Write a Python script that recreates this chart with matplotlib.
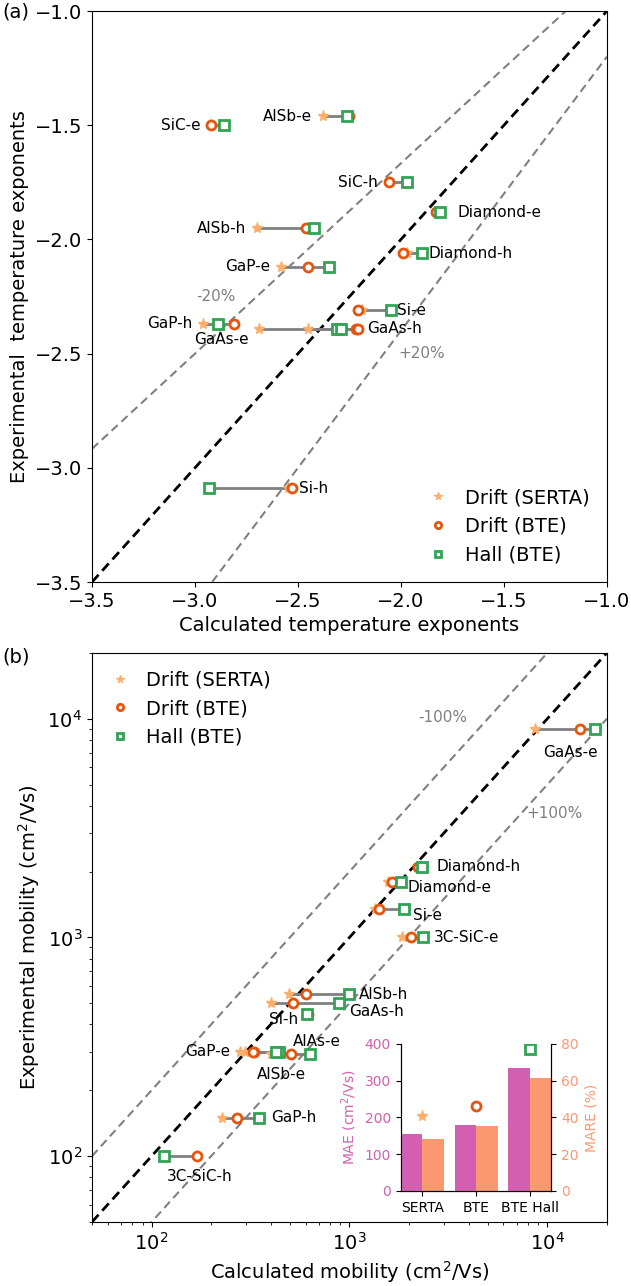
import matplotlib.pyplot as plt
import numpy as np

# (a) температурные показатели: эксперимент и расчёт
exp_names = ['SiC-e', 'AlSb-e', 'SiC-h', 'Diamond-e', 'AlSb-h', 'Diamond-h',
             'GaP-e', 'Si-e', 'GaP-h', 'GaAs-e', 'GaAs-h', 'Si-h']
exp_meas = [-1.50, -1.46, -1.75, -1.88, -1.95, -2.06, -2.12, -2.31, -2.37, -2.39, -2.39, -3.09]
exp_serta = [-2.92, -2.38, -2.06, -1.83, -2.70, -1.97, -2.58, -2.19, -2.96, -2.69, -2.45, -2.55]
exp_bte = [-2.92, -2.25, -2.06, -1.83, -2.46, -1.99, -2.45, -2.21, -2.81, -2.22, -2.21, -2.53]
exp_hall = [-2.86, -2.26, -1.97, -1.81, -2.42, -1.90, -2.35, -2.05, -2.89, -2.31, -2.29, -2.93]

# (b) подвижность, cm^2/Vs
mob_names = ['GaAs-e', 'Diamond-h', 'Diamond-e', 'Si-e', '3C-SiC-e', 'AlSb-h', 'GaAs-h',
             'Si-h', 'GaP-e', 'AlAs-e', 'AlSb-e', 'GaP-h', '3C-SiC-h']
mob_meas = [9000, 2100, 1800, 1350, 1000, 550, 500, 445, 300, 294, 300, 150, 100]
mob_serta = [8660, 2200, 1570, 1350, 1840, 495, 400, 620, 280, 400, 297, 226, 170]
mob_bte = [14600, 2210, 1650, 1415, 2050, 600, 520, 620, 330, 505, 325, 270, 170]
mob_hall = [17500, 2320, 1815, 1890, 2340, 1000, 890, 608, 440, 635, 425, 350, 115]

# вставка: ошибки методов
methods = ['SERTA', 'BTE', 'BTE Hall']
mae = [155, 180, 335]
mare = [28.5, 35.5, 61.5]

# подписи точек: (сторона, dx, dy) в pt
exp_lab = {'SiC-e': ('l', -8, 0), 'AlSb-e': ('l', -8, 0), 'SiC-h': ('l', -8, 0),
           'Diamond-e': ('r', 12.5, 0), 'AlSb-h': ('l', -8, 0), 'Diamond-h': ('r', 5, 0),
           'GaP-e': ('l', -8, 0), 'Si-e': ('r', 4.6, 0), 'GaP-h': ('l', -8, 0),
           'GaAs-e': ('c', -26.6, -8), 'GaAs-h': ('r', 6.8, 0), 'Si-h': ('r', 5, 0)}
mob_lab = {'GaAs-e': ('c', 25.7, -17), 'Diamond-h': ('r', 10.8, 0), 'Diamond-e': ('r', 4.8, -4),
           'Si-e': ('r', 6.7, -4.6), '3C-SiC-e': ('r', 8.4, 0), 'AlSb-h': ('r', 6.5, 0),
           'GaAs-h': ('r', 7.2, -5.8), 'Si-h': ('l', -6, -3.6), 'GaP-e': ('l', -7.2, 0),
           'AlAs-e': ('c', 33.3, 9.1), 'AlSb-e': ('c', 26, -16), 'GaP-h': ('r', 8.4, 0),
           '3C-SiC-h': ('c', 25.7, -15)}

c_serta = '#fdae6b'
c_bte = '#e6550d'
c_hall = '#31a354'
c_mae = '#d35fb0'
c_mare = '#fc9870'

plt.rcParams['font.size'] = 14


def draw_points(ax, names, meas, serta, bte, hall, labels):
    for i, name in enumerate(names):
        xs = [serta[i], bte[i], hall[i]]
        ax.plot([min(xs), max(xs)], [meas[i], meas[i]], color='gray', lw=2, zorder=2)
        ax.plot(serta[i], meas[i], '*', color=c_serta, ms=8, zorder=3)
        ax.plot(bte[i], meas[i], 'o', mfc='white', mec=c_bte, mew=2, ms=6.5, zorder=4)
        ax.plot(hall[i], meas[i], 's', mfc='white', mec=c_hall, mew=2, ms=6.5, zorder=5)
        side, dx, dy = labels[name]
        if side == 'r':
            ax.annotate(name, (max(xs), meas[i]), xytext=(dx, dy), textcoords='offset points',
                        ha='left', va='center', fontsize=11)
        elif side == 'l':
            ax.annotate(name, (min(xs), meas[i]), xytext=(dx, dy), textcoords='offset points',
                        ha='right', va='center', fontsize=11)
        else:
            ax.annotate(name, (min(xs), meas[i]), xytext=(dx, dy), textcoords='offset points',
                        ha='center', va='center', fontsize=11)
    # только для легенды
    ax.plot([], [], '*', color=c_serta, ms=8, label='Drift (SERTA)')
    ax.plot([], [], 'o', mfc='white', mec=c_bte, mew=2, ms=6.5, label='Drift (BTE)')
    ax.plot([], [], 's', mfc='white', mec=c_hall, mew=2, ms=6.5, label='Hall (BTE)')


fig = plt.figure(figsize=(6.31, 12.86), dpi=100)

# ---------- (a) ----------
ax1 = fig.add_axes([0.1458, 0.5474, 0.816, 0.4440])
xl = np.array([-3.5, -1.0])
ax1.plot(xl, xl, '--', color='black', lw=2, dashes=(3.5, 2), zorder=1)
ax1.plot(xl, xl / 1.2, '--', color='gray', lw=1.5, dashes=(4, 2.4), zorder=1)
ax1.plot(xl, xl * 1.2, '--', color='gray', lw=1.5, dashes=(4, 2.4), zorder=1)
draw_points(ax1, exp_names, exp_meas, exp_serta, exp_bte, exp_hall, exp_lab)
ax1.text(-2.90, -2.25, '-20%', color='gray', fontsize=11, ha='center', va='center')
ax1.text(-1.90, -2.50, '+20%', color='gray', fontsize=11, ha='center', va='center')
ax1.set_xlim(-3.5, -1.0)
ax1.set_ylim(-3.5, -1.0)
ax1.set_xticks(np.arange(-3.5, -0.9, 0.5))
ax1.set_yticks(np.arange(-3.5, -0.9, 0.5))
ax1.set_xlabel('Calculated temperature exponents')
ax1.set_ylabel('Experimental  temperature exponents')
ax1.legend(loc='lower right', frameon=False, fontsize=14, markerscale=0.7,
           handlelength=1.1, labelspacing=0.5)
fig.text(0.003, 0.991, '(a)', fontsize=14, va='center')

# ---------- (b) ----------
ax2 = fig.add_axes([0.1458, 0.0498, 0.816, 0.4425])
xl = np.array([50, 2e4])
ax2.plot(xl, xl, '--', color='black', lw=2, dashes=(3.5, 2), zorder=1)
ax2.plot(xl, xl * 2, '--', color='gray', lw=1.5, dashes=(4, 2.4), zorder=1)
ax2.plot(xl, xl / 2, '--', color='gray', lw=1.5, dashes=(4, 2.4), zorder=1)
draw_points(ax2, mob_names, mob_meas, mob_serta, mob_bte, mob_hall, mob_lab)
ax2.text(2970, 10080, '-100%', color='gray', fontsize=11, ha='center', va='center')
ax2.text(10900, 3700, '+100%', color='gray', fontsize=11, ha='center', va='center')
ax2.set_xscale('log')
ax2.set_yscale('log')
ax2.set_xlim(50, 2e4)
ax2.set_ylim(50, 2e4)
ax2.set_xlabel('Calculated mobility (cm$^2$/Vs)')
ax2.set_ylabel('Experimental mobility (cm$^2$/Vs)')
ax2.legend(loc='upper left', frameon=False, fontsize=14, markerscale=0.7,
           handlelength=1.1, labelspacing=0.5)
fig.text(0.003, 0.489, '(b)', fontsize=14, va='center')

# ---------- вставка ----------
ax3 = fig.add_axes([0.635, 0.0739, 0.239, 0.1143])
x = np.arange(len(methods))
ax3.bar(x - 0.2, mae, width=0.4, color=c_mae)
ax3.set_xlim(-0.4, 2.4)
ax3.set_ylim(0, 400)
ax3.set_yticks([0, 100, 200, 300, 400])
ax3.set_xticks(x)
ax3.set_xticklabels(methods, fontsize=10)
ax3.tick_params(axis='y', labelsize=10, labelcolor=c_mae)
ax3.set_ylabel('MAE (cm$^2$/Vs)', color=c_mae, fontsize=10)
ax3.plot(x[0], mae[0] + 50, '*', color=c_serta, ms=8)
ax3.plot(x[1], mae[1] + 50, 'o', mfc='white', mec=c_bte, mew=2, ms=6.5)
ax3.plot(x[2], mae[2] + 50, 's', mfc='white', mec=c_hall, mew=2, ms=6.5)
ax4 = ax3.twinx()
ax4.bar(x + 0.2, mare, width=0.4, color=c_mare)
ax4.set_ylim(0, 80)
ax4.set_yticks([0, 20, 40, 60, 80])
ax4.tick_params(axis='y', labelsize=10, labelcolor=c_mare)
ax4.set_ylabel('MARE (%)', color=c_mare, fontsize=10)
for a in (ax3, ax4):
    a.spines['top'].set_visible(False)
ax3.set_zorder(ax4.get_zorder() + 1)
ax3.patch.set_visible(False)

plt.savefig('out.png', dpi=100)
plt.close()
